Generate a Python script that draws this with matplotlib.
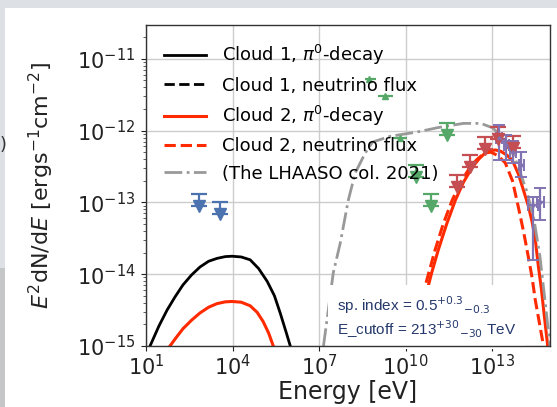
import numpy as np
import matplotlib
matplotlib.use('Agg')
import matplotlib.pyplot as plt
from matplotlib.patches import Rectangle
from matplotlib.ticker import LogLocator, NullLocator, NullFormatter, FixedLocator

# ---------------- data (log10 E [eV], log10 E^2 dN/dE [erg s^-1 cm^-2]) ----------------
c1_pi_logE = [1.14, 1.45, 1.73, 2.0, 2.28, 2.58, 2.87, 3.17, 3.46, 3.75, 3.98, 4.3, 4.61,
              4.9, 5.20, 5.45, 5.65, 5.85, 6.0]
c1_pi_logF = [-15.0, -14.72, -14.50, -14.32, -14.15, -14.01, -13.90, -13.82, -13.78, -13.755,
              -13.75, -13.76, -13.80, -13.92, -14.10, -14.30, -14.54, -14.80, -15.0]

c2_pi_logE = [1.83, 2.05, 2.28, 2.58, 2.87, 3.17, 3.46, 3.75, 3.98, 4.3, 4.61, 4.85, 5.06,
              5.25, 5.41, np.nan,
              10.33, 10.5, 10.68, 10.9, 11.13, 11.42, 11.72, 12.0, 12.31, 12.55, 12.76, 12.95,
              13.11, 13.3, 13.5, 13.69, 13.9, 14.08, 14.25, 14.39, 14.50, 14.60, 14.70, 14.77,
              14.85, 14.91, 14.95]
c2_pi_logF = [-15.0, -14.88, -14.76, -14.64, -14.54, -14.46, -14.41, -14.385, -14.38, -14.39,
              -14.44, -14.53, -14.66, -14.82, -15.0, np.nan,
              -15.0, -14.65, -14.32, -13.98, -13.66, -13.30, -12.97, -12.72, -12.51, -12.39,
              -12.31, -12.28, -12.27, -12.29, -12.34, -12.41, -12.60, -12.83, -13.05, -13.29,
              -13.55, -13.90, -14.20, -14.46, -14.75, -14.96, -15.2]

c2_nu_logE = [10.23, 10.40, 10.57, 10.8, 11.02, 11.3, 11.61, 11.9, 12.20, 12.45, 12.65, 12.8,
              12.95, 13.2, 13.45, 13.7, 13.90, 14.08, 14.25, 14.38, 14.49, 14.62, 14.74, 14.78]
c2_nu_logF = [-15.0, -14.65, -14.32, -13.98, -13.66, -13.30, -12.97, -12.72, -12.53, -12.41,
              -12.34, -12.31, -12.30, -12.35, -12.45, -12.70, -13.06, -13.40, -13.76, -14.05,
              -14.36, -14.65, -14.92, -15.1]

lhaaso_logE = [7.15, 7.49, 7.73, 8.01, 8.25, 8.60, 8.85, 9.46, 10.4, 11.1, 12.0, 12.6, 13.0,
               13.45, 13.8, 14.2, 14.45, 14.65, 14.85, 15.0]
lhaaso_logF = [-15.0, -13.98, -13.57, -12.97, -12.59, -12.31, -12.16, -12.08, -12.02, -11.96,
               -11.90, -11.90, -11.96, -12.12, -12.40, -12.85, -13.25, -13.75, -14.45, -15.0]

blue_ul_logE = [2.84, 3.57]
blue_ul_logF = [-12.88, -12.99]

green_ul_logE = [10.37, 10.89, 11.44]
green_ul_logF = [-12.48, -12.88, -11.89]

green_pt_logE = [8.73, 9.29, 9.81]
green_pt_logF = [-11.28, -11.52, -12.10]
green_pt_logE_lo = [8.60, 9.05, 9.57]
green_pt_logE_hi = [8.98, 9.57, 10.05]

red_ul_logE = [11.79, 12.24, 12.76, 13.21, 13.73]
red_ul_logF = [-12.62, -12.34, -12.09, -11.95, -12.07]

purple_logE = [13.24, 13.49, 13.73, 14.01, 14.42, 14.67]
purple_logF = [-12.10, -12.20, -12.30, -12.48, -13.04, -13.00]
purple_logF_lo = [-12.41, -12.41, -12.45, -12.65, -13.80, -13.25]
purple_logF_hi = [-11.92, -12.06, -12.15, -12.30, -12.92, -12.80]
purple_logE_lo = [13.14, 13.39, 13.63, 13.91, 14.25, 14.55]
purple_logE_hi = [13.34, 13.59, 13.83, 14.11, 14.59, 14.79]

legend_labels = ["Cloud 1, $\\pi^0$-decay", "Cloud 1, neutrino flux",
                 "Cloud 2, $\\pi^0$-decay", "Cloud 2, neutrino flux",
                 "(The LHAASO col. 2021)"]
tick_x = [1e1, 1e4, 1e7, 1e10, 1e13]
tick_y = [1e-15, 1e-14, 1e-13, 1e-12, 1e-11]
box_lines = ["sp. index = 0.5$^{+0.3}$$_{-0.3}$", "E_cutoff = 213$^{+30}$$_{-30}$ TeV"]

# ---------------- figure ----------------
W, H = 557, 407
fig = plt.figure(figsize=(W / 100, H / 100), dpi=100, facecolor='#dde1e6')
fig.patches.append(Rectangle((5 / W, 0), 1, 1 - 8 / H, transform=fig.transFigure,
                             facecolor='white', edgecolor='none', zorder=-10))
fig.patches.append(Rectangle((0, 0), 5 / W, 1 - 268 / H, transform=fig.transFigure,
                             facecolor='#c4c6c8', edgecolor='none', zorder=-10))
fig.text(0.0, 1 - 145 / H, ")", fontsize=13, color='#333333', va='center', ha='left')

ax = fig.add_axes([146 / W, 1 - 346 / H, (550 - 146) / W, (346 - 25) / H])


def p(a):
    return 10 ** np.asarray(a, dtype=float)


red = '#ff2a00'
ax.plot(p(c1_pi_logE), p(c1_pi_logF), color='black', lw=2.0, label=legend_labels[0])
ax.plot([], [], color='black', lw=2.0, ls='--', label=legend_labels[1])
ax.plot(p(c2_pi_logE), p(c2_pi_logF), color=red, lw=2.2, label=legend_labels[2])
ax.plot(p(c2_nu_logE), p(c2_nu_logF), color=red, lw=2.2, ls='--', label=legend_labels[3])
ax.plot(p(lhaaso_logE), p(lhaaso_logF), color='#999999', lw=2.0, ls='-.', label=legend_labels[4])

drop = 0.17  # visual length of upper-limit arrows (dex)


def upper_limits(logE, logF, color):
    y_cap = p(logF)
    y_mark = p(np.asarray(logF) - drop)
    ax.errorbar(p(logE), y_mark, yerr=[np.zeros_like(y_cap), y_cap - y_mark], fmt='v',
                color=color, ms=8, capsize=6, elinewidth=1.6, capthick=1.6)


upper_limits(blue_ul_logE, blue_ul_logF, '#4c72b0')
upper_limits(green_ul_logE, green_ul_logF, '#55a868')
upper_limits(red_ul_logE, red_ul_logF, '#c44e52')

gx = p(green_pt_logE)
ax.errorbar(gx, p(green_pt_logF), xerr=[gx - p(green_pt_logE_lo), p(green_pt_logE_hi) - gx],
            fmt='^', color='#55a868', ms=5, elinewidth=1.6)

px = p(purple_logE)
py = p(purple_logF)
ax.errorbar(px, py, yerr=[py - p(purple_logF_lo), p(purple_logF_hi) - py],
            xerr=[px - p(purple_logE_lo), p(purple_logE_hi) - px],
            fmt='.', color='#8172b2', ms=4, capsize=4, elinewidth=1.6, capthick=1.4)

ax.set_xscale('log')
ax.set_yscale('log')
ax.set_xlim(1e1, 1e15)
ax.set_ylim(1e-15, 10 ** -10.53)
ax.xaxis.set_major_locator(FixedLocator(tick_x))
ax.xaxis.set_minor_locator(NullLocator())
ax.yaxis.set_major_locator(FixedLocator(tick_y))
ax.yaxis.set_minor_locator(LogLocator(base=10, subs=np.arange(2, 10), numticks=50))
ax.yaxis.set_minor_formatter(NullFormatter())
ax.grid(True, which='major', color='#cccccc', lw=1.0)
ax.set_axisbelow(True)
for s in ax.spines.values():
    s.set_color('#333333')
    s.set_linewidth(1.0)
ax.tick_params(which='major', labelsize=15, length=3.5, width=0.8, colors='#222222')
ax.tick_params(axis='x', which='major', pad=2)
ax.tick_params(axis='y', which='major', pad=4)
ax.tick_params(which='minor', length=2, width=0.6, colors='#444444')

ax.set_xlabel('Energy [eV]', fontsize=17, color='#222222', labelpad=1)
ax.set_ylabel('$E^2$dN/d$E$ [ergs$^{-1}$cm$^{-2}$]', fontsize=16, color='#222222', labelpad=15)

ax.legend(loc='upper left', frameon=False, fontsize=13, handlelength=2.3,
          handletextpad=0.9, labelspacing=0.52, borderaxespad=0.5, borderpad=0.5)

ax.text((337 - 146) / 404, 0.02, "\n".join(box_lines), transform=ax.transAxes,
        fontsize=11, family='Liberation Sans', color='#24386b', va='bottom', ha='left',
        linespacing=1.1, zorder=2.4,
        bbox=dict(boxstyle='square,pad=0.6', facecolor='white', edgecolor='none'))

fig.savefig('out.png', dpi=100, facecolor=fig.get_facecolor())
